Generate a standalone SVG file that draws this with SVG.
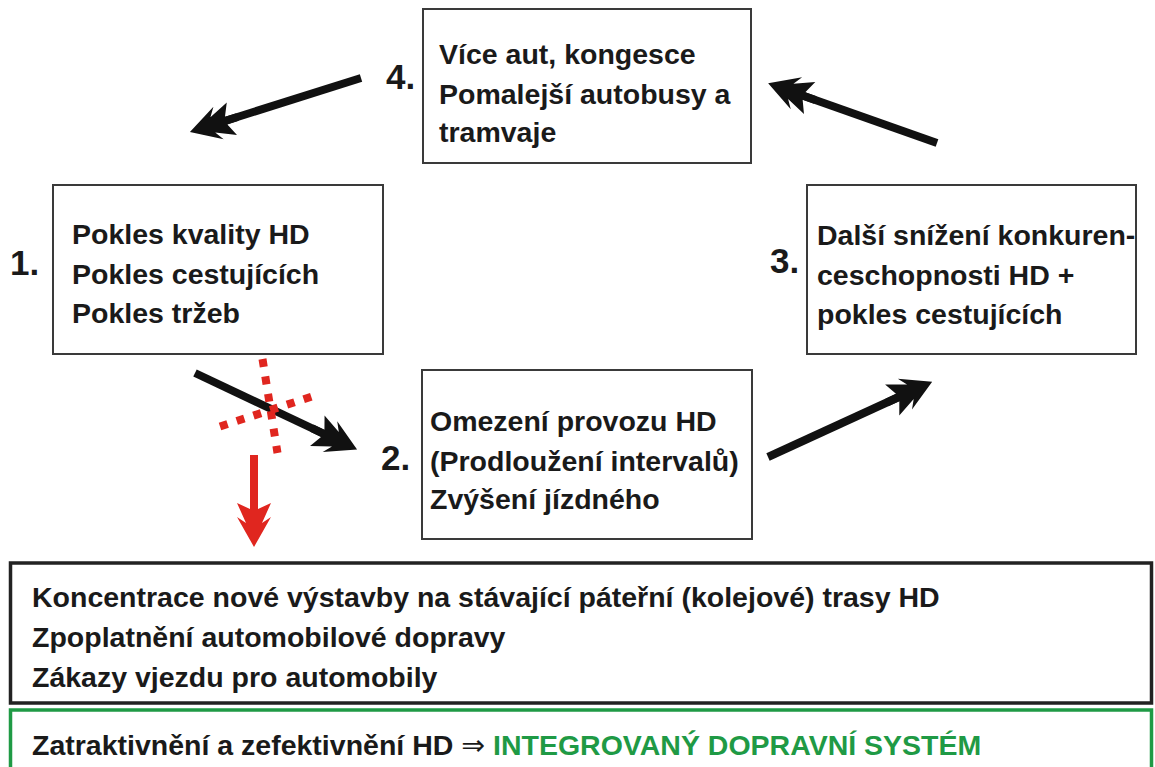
<svg xmlns="http://www.w3.org/2000/svg" width="1155" height="767" viewBox="0 0 1155 767">
<defs>
<style>
.t{font-family:"Liberation Sans",Arial,sans-serif;font-weight:700;font-size:28.5px;fill:#1a1a1a}
.num{font-family:"Liberation Sans",Arial,sans-serif;font-weight:700;font-size:35px;fill:#1a1a1a}
.box{fill:#fff;stroke:#3a3a3a;stroke-width:2}
.shaft{stroke:#111;stroke-width:8;fill:none}
.green{fill:#1f9a45}
</style>
<marker id="ah" viewBox="-62 -18 64 36" markerWidth="64" markerHeight="36" refX="-20" refY="0" markerUnits="userSpaceOnUse" orient="auto">
<polygon points="0,0 -30,-17 -24,-8 -44,-17 -38,-4 -50,-4 -50,4 -38,4 -44,17 -24,8 -30,17" fill="#111"/>
</marker>
<marker id="ahr" viewBox="-62 -18 64 36" markerWidth="64" markerHeight="36" refX="-20" refY="0" markerUnits="userSpaceOnUse" orient="auto">
<polygon points="0,0 -30,-17 -24,-8 -44,-17 -38,-4 -50,-4 -50,4 -38,4 -44,17 -24,8 -30,17" fill="#e0261f"/>
</marker>
</defs>
<rect width="1155" height="767" fill="#fff"/>

<g id="node4">
<rect class="box" x="423" y="9" width="328" height="154"/>
<text class="num" x="386" y="89">4.</text>
<text class="t" x="439" y="64">Více aut, kongesce</text>
<text class="t" x="439" y="104">Pomalejší autobusy a</text>
<text class="t" x="439" y="142">tramvaje</text>
</g>

<g id="node1">
<rect class="box" x="53" y="185" width="330" height="169"/>
<text class="num" x="10" y="275">1.</text>
<text class="t" x="72" y="244">Pokles kvality HD</text>
<text class="t" x="72" y="284">Pokles cestujících</text>
<text class="t" x="72" y="323">Pokles tržeb</text>
</g>

<g id="node3">
<rect class="box" x="807" y="185" width="329" height="169"/>
<text class="num" x="770" y="273">3.</text>
<text class="t" x="817" y="245">Další snížení konkuren-</text>
<text class="t" x="817" y="285">ceschopnosti HD +</text>
<text class="t" x="817" y="324">pokles cestujících</text>
</g>

<g id="node2">
<rect class="box" x="422" y="370" width="330" height="169"/>
<text class="num" x="381" y="470">2.</text>
<text class="t" x="430" y="431">Omezení provozu HD</text>
<text class="t" x="430" y="471">(Prodloužení intervalů)</text>
<text class="t" x="430" y="509">Zvýšení jízdného</text>
</g>

<g id="measures">
<rect x="10.5" y="563" width="1141" height="140" fill="#fff" stroke="#222" stroke-width="3.5"/>
<text class="t" x="32" y="607">Koncentrace nové výstavby na stávající páteřní (kolejové) trasy HD</text>
<text class="t" x="32" y="647">Zpoplatnění automobilové dopravy</text>
<text class="t" x="32" y="687">Zákazy vjezdu pro automobily</text>
</g>

<g id="result">
<rect x="10.5" y="710" width="1141" height="70" fill="#fff" stroke="#1f9a45" stroke-width="3.5"/>
<text class="t" x="32" y="755">Zatraktivnění a zefektivnění HD <tspan style="font-family:'DejaVu Sans',sans-serif;font-weight:400">⇒</tspan> <tspan class="green">INTEGROVANÝ DOPRAVNÍ SYSTÉM</tspan></text>
</g>

<g id="connectors">
<line class="shaft" x1="361" y1="78" x2="209" y2="126" marker-end="url(#ah)"/>
<line class="shaft" x1="937" y1="143" x2="787" y2="90" marker-end="url(#ah)"/>
<line class="shaft" x1="195" y1="373" x2="339" y2="441" marker-end="url(#ah)"/>
<line class="shaft" x1="768" y1="457" x2="914" y2="390" marker-end="url(#ah)"/>
<line x1="254" y1="455" x2="254" y2="527" stroke="#e0261f" stroke-width="8" marker-end="url(#ahr)"/>
<g id="blocked" stroke="#e0261f" stroke-width="8" stroke-dasharray="8 9.6" fill="none">
<line x1="262.5" y1="359" x2="277.5" y2="453"/>
<line x1="220" y1="426.5" x2="312" y2="396.5"/>
</g>
</g>
</svg>
